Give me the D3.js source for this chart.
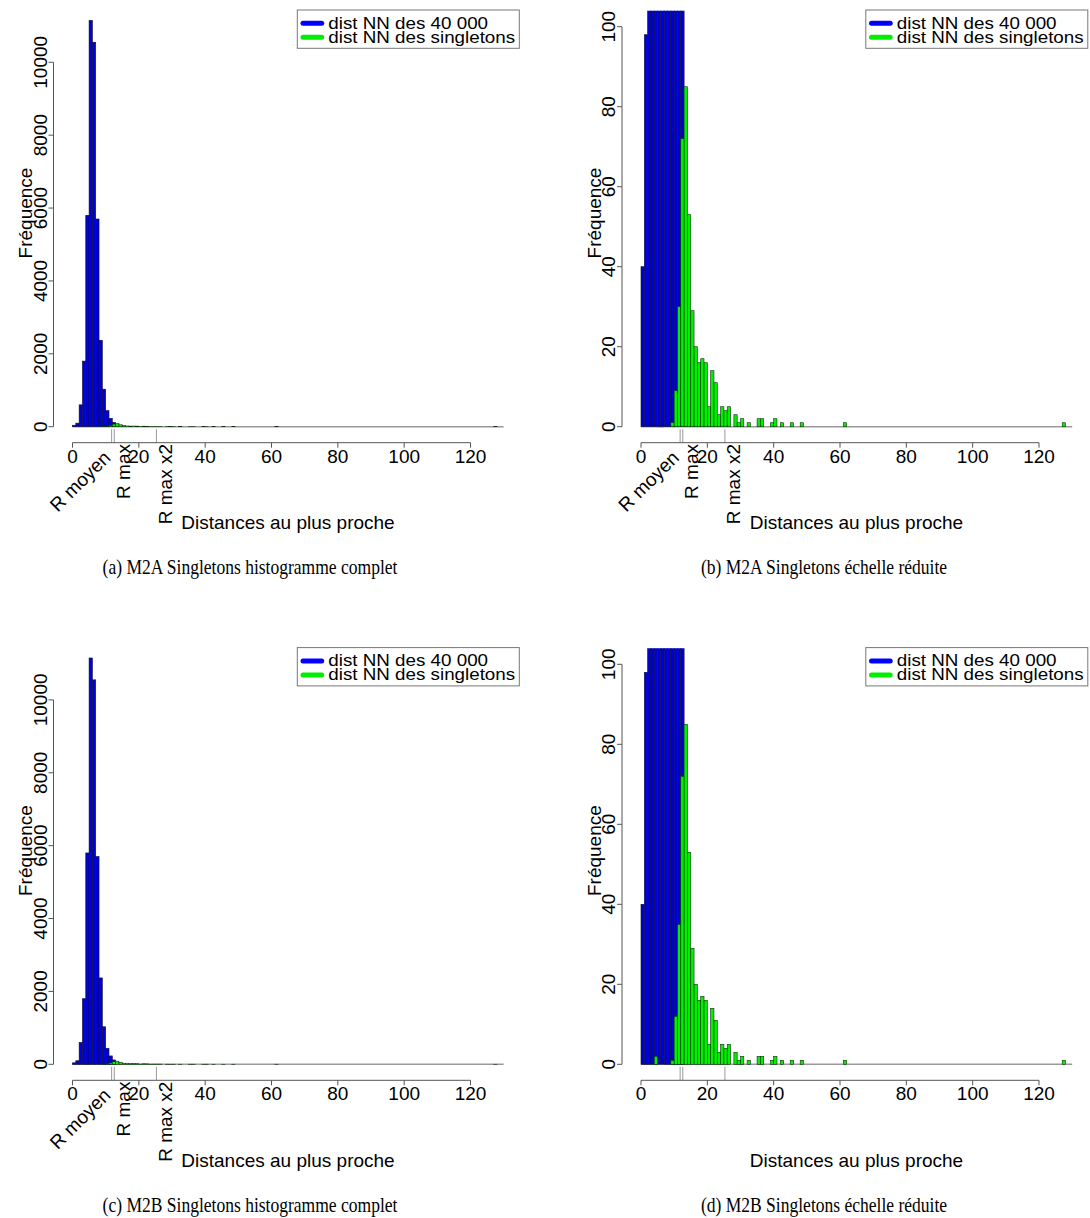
<!DOCTYPE html>
<html><head><meta charset="utf-8">
<script src="https://cdn.jsdelivr.net/npm/d3@7"></script>
<style>
body{margin:0;background:#fff}
svg{display:block}
text{font-family:"Liberation Sans",Arial,Helvetica,sans-serif;fill:#000}
.cap{font-family:"Liberation Serif","Times New Roman",serif}
</style>
</head><body><svg id="chart" width="1090" height="1218"></svg>
<script>
// ---------- data (bin width 1, bins start at the given value) ----------
const blueCounts = [40, 98, 600, 1800, 5800, 11150, 10550, 5700, 2370, 1030, 440, 230, 120];
const greenBinsM2A   = [9,10,11,12,13,14,15,16,17,18,19,20,21,22,23,24,25,26,28,29,30,32,35,36,39,40,42,45,48,61,127];
const greenCountsM2A = [1,9,30,72,85,53,29,20,16,17,16,5,14,11,3,5,4,5,3,1,2,1,2,2,1,2,1,1,1,1,1];
const greenBinsM2B   = [4,9,10,11,12,13,14,15,16,17,18,19,20,21,22,23,24,25,26,28,29,30,32,35,36,39,40,42,45,48,61,127];
const greenCountsM2B = [2,1,12,35,72,85,53,29,20,16,17,16,5,14,11,3,5,4,5,3,1,2,1,2,2,1,2,1,1,1,1,1];
const xTicks = [0,20,40,60,80,100,120];
const yTicksFull = [0,2000,4000,6000,8000,10000];
const yTicksReduced = [0,20,40,60,80,100];
const refValues = [11.8, 12.6, 25.3];
const refLabels = ["R moyen", "R max", "R max x2"];
const legendLabels = ["dist NN des 40 000", "dist NN des singletons"];
const captions = ["(a) M2A Singletons histogramme complet", "(b) M2A Singletons échelle réduite",
                  "(c) M2B Singletons histogramme complet", "(d) M2B Singletons échelle réduite"];
const xLabel = "Distances au plus proche";
const yLabel = "Fréquence";
const baselineEnd = 130;

// ---------- layout ----------
const panels = [
  {ox:0,     oy:0,     reduced:false, gb:greenBinsM2A, gc:greenCountsM2A, refText:true,  cap:0},
  {ox:568.5, oy:0,     reduced:true,  gb:greenBinsM2A, gc:greenCountsM2A, refText:true,  cap:1},
  {ox:0,     oy:637.6, reduced:false, gb:greenBinsM2B, gc:greenCountsM2B, refText:true,  cap:2},
  {ox:568.5, oy:637.6, reduced:true,  gb:greenBinsM2B, gc:greenCountsM2B, refText:false, cap:3}
];
const FS = 19;
const svg = d3.select("#chart");
const x = d3.scaleLinear().domain([0,120]).range([72.5, 470.5]);
const plotBottom = 442.7, axisX = 53.5;

panels.forEach((p, pi) => {
  const g = svg.append("g").attr("transform", `translate(${p.ox},${p.oy})`);
  const y = p.reduced
    ? d3.scaleLinear().domain([0,100]).range([426.7, 26.7])
    : d3.scaleLinear().domain([0,10000]).range([426.7, 62.3]);
  const yTicks = p.reduced ? yTicksReduced : yTicksFull;
  const clipTop = p.reduced ? y(104) : 0;
  const clipId = "clip" + pi;
  g.append("clipPath").attr("id", clipId).append("rect")
    .attr("x", 0).attr("y", clipTop).attr("width", 560).attr("height", plotBottom - clipTop);
  const plot = g.append("g").attr("clip-path", `url(#${clipId})`);

  // baseline
  plot.append("line").attr("x1", x(0)).attr("x2", x(baselineEnd))
    .attr("y1", y(0)).attr("y2", y(0)).attr("stroke", "#9a9a9a").attr("stroke-width", 1.6);

  // blue histogram
  plot.selectAll("rect.blue").data(blueCounts).join("rect").attr("class","blue")
    .attr("x", (d,i) => x(i)).attr("width", (d,i) => x(i+1) - x(i))
    .attr("y", d => y(d)).attr("height", d => y(0) - y(d))
    .attr("fill", "#0000d8").attr("stroke", "#101030").attr("stroke-width", 0.6);

  // green histogram
  const gd = p.gb.map((b,i) => ({b, c:p.gc[i]}));
  plot.selectAll("rect.green").data(gd).join("rect").attr("class","green")
    .attr("x", d => x(d.b)).attr("width", d => x(d.b+1) - x(d.b))
    .attr("y", d => y(d.c)).attr("height", d => y(0) - y(d.c))
    .attr("fill", "#00f000").attr("stroke", "#103010").attr("stroke-width", 0.6);

  // reference marks
  g.selectAll("line.ref").data(refValues).join("line").attr("class","ref")
    .attr("x1", d => x(d)).attr("x2", d => x(d))
    .attr("y1", plotBottom - 13.5).attr("y2", plotBottom)
    .attr("stroke", "#9a9a9a").attr("stroke-width", 1);

  // x axis
  g.append("line").attr("x1", x(0)).attr("x2", x(120)).attr("y1", plotBottom).attr("y2", plotBottom)
    .attr("stroke", "#555").attr("stroke-width", 1);
  g.selectAll("line.xt").data(xTicks).join("line").attr("class","xt")
    .attr("x1", d => x(d)).attr("x2", d => x(d)).attr("y1", plotBottom).attr("y2", plotBottom + 5)
    .attr("stroke", "#555");
  g.selectAll("text.xt").data(xTicks).join("text").attr("class","xt")
    .attr("x", d => x(d)).attr("y", 462.5).attr("text-anchor","middle")
    .attr("font-size", FS).text(d => d);

  // y axis
  g.append("line").attr("x1", axisX).attr("x2", axisX).attr("y1", y(yTicks[0])).attr("y2", y(yTicks[yTicks.length-1]))
    .attr("stroke", "#555");
  g.selectAll("line.yt").data(yTicks).join("line").attr("class","yt")
    .attr("x1", axisX - 5).attr("x2", axisX).attr("y1", d => y(d)).attr("y2", d => y(d))
    .attr("stroke", "#555");
  g.selectAll("text.yt").data(yTicks).join("text").attr("class","yt")
    .attr("transform", d => `translate(${axisX - 7},${y(d)}) rotate(-90)`)
    .attr("text-anchor","middle").attr("font-size", FS).text(d => d);

  // axis titles
  g.append("text").attr("x", 288).attr("y", 529).attr("text-anchor","middle")
    .attr("font-size", FS).text(xLabel);
  g.append("text").attr("transform", `translate(32,213) rotate(-90)`)
    .attr("text-anchor","middle").attr("font-size", FS).text(yLabel);

  // reference labels
  if (p.refText) {
    g.append("text").attr("transform", `translate(${x(refValues[0])},459) rotate(-45)`)
      .attr("text-anchor","end").attr("font-size", FS).text(refLabels[0]);
    [1,2].forEach(k => {
      g.append("text").attr("transform", `translate(${x(refValues[k]) + 15.5},444) rotate(-90)`)
        .attr("text-anchor","end").attr("font-size", FS).text(refLabels[k]);
    });
  }

  // legend
  const lg = g.append("g");
  lg.append("rect").attr("x", 297.3).attr("y", 10).attr("width", 222).attr("height", 38.3)
    .attr("fill", "#fff").attr("stroke", "#777").attr("stroke-width", 1);
  ["#0000ff", "#00ee00"].forEach((c, k) => {
    lg.append("line").attr("x1", 303).attr("x2", 321.7).attr("y1", 23.3 + 14*k).attr("y2", 23.3 + 14*k)
      .attr("stroke", c).attr("stroke-width", 5).attr("stroke-linecap","round");
    lg.append("text").attr("transform", `translate(328.3,${28.6 + 14*k}) scale(1,0.86)`)
      .attr("font-size", 18.8).text(legendLabels[k]);
  });

  // caption
  svg.append("text").attr("class","cap")
    .attr("transform", `translate(${p.ox + (p.reduced ? 255.5 : 250)},${574 + p.oy}) scale(0.835,1)`)
    .attr("text-anchor","middle").attr("font-size", 21).text(captions[p.cap]);
});
</script>
</body></html>
